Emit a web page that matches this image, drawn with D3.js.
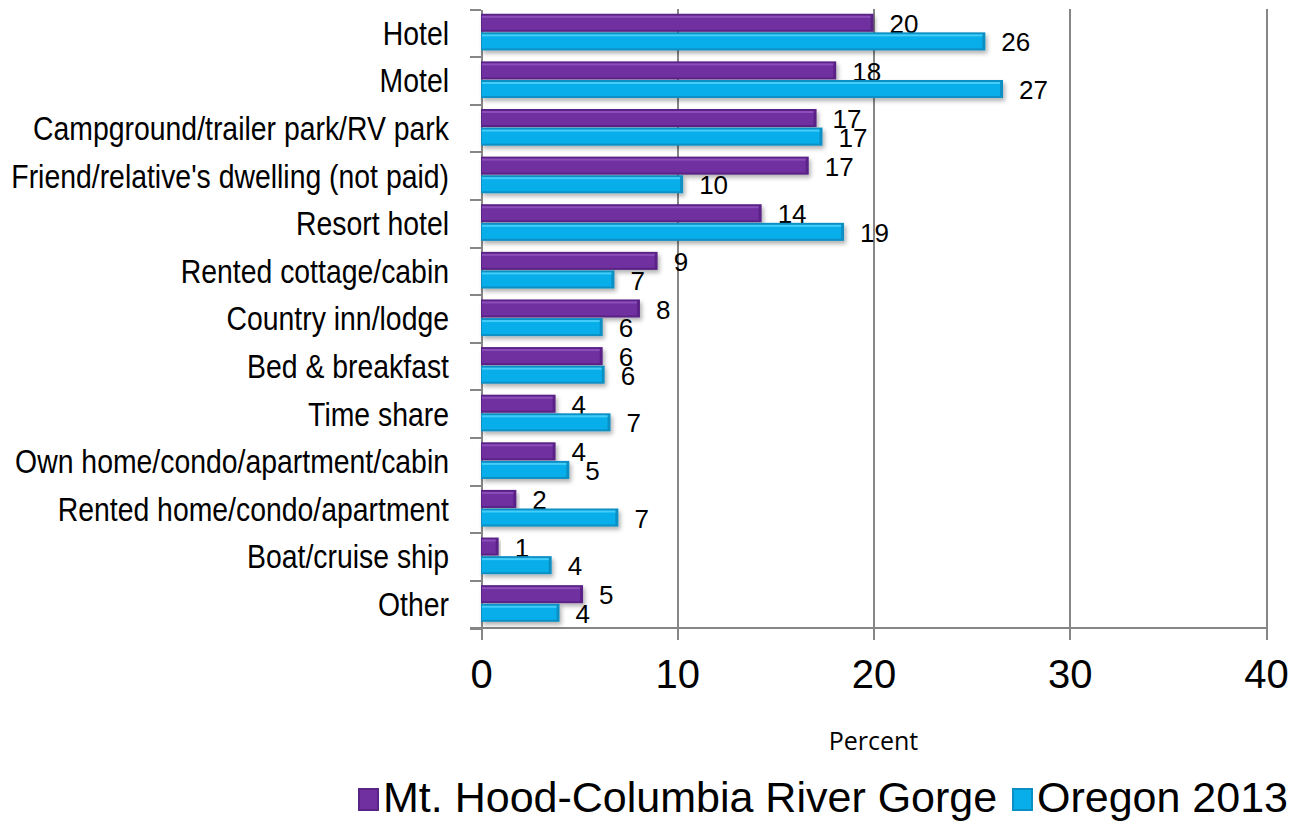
<!DOCTYPE html>
<html>
<head>
<meta charset="utf-8">
<script src="https://cdn.jsdelivr.net/npm/d3@7"></script>
<style>
  body { margin: 0; background: #fff; }
  svg { display: block; }
  .axis path, .axis line { stroke: #868686; stroke-width: 2; shape-rendering: crispEdges; }
</style>
</head>
<body>
<div id="chart"></div>
<script>
// categories, top to bottom
var categories = [
    "Hotel",
    "Motel",
    "Campground/trailer park/RV park",
    "Friend/relative's dwelling (not paid)",
    "Resort hotel",
    "Rented cottage/cabin",
    "Country inn/lodge",
    "Bed & breakfast",
    "Time share",
    "Own home/condo/apartment/cabin",
    "Rented home/condo/apartment",
    "Boat/cruise ship",
    "Other"
];

var seriesNames = ["Mt. Hood-Columbia River Gorge", "Oregon 2013"];

// percent values
var mtHoodValues = [20.0, 18.1, 17.1, 16.7, 14.3, 9.0, 8.1, 6.2, 3.8, 3.8, 1.8, 0.9, 5.2];
var oregonValues = [25.7, 26.6, 17.4, 10.3, 18.5, 6.8, 6.2, 6.3, 6.6, 4.5, 7.0, 3.6, 4.0];

var xTicks = [0, 10, 20, 30, 40];

var width = 1312, height = 822;
var plot = {left: 481, right: 1266, top: 9, bottom: 628};
var sansFont = "'Liberation Sans', Arial, sans-serif";

var colors = {
    main: ["#7030a0", "#07aee9"],
    dark: ["#5a2486", "#0a8fc4"],
    light: ["#8c4fba", "#45ccf8"]
};

var svg = d3.select("#chart").append("svg")
    .attr("width", width)
    .attr("height", height);

var defs = svg.append("defs");
var shadow = defs.append("filter").attr("id", "shadow")
    .attr("x", "-5%").attr("y", "-30%").attr("width", "115%").attr("height", "180%");
shadow.append("feDropShadow")
    .attr("dx", 2).attr("dy", 3)
    .attr("stdDeviation", 2)
    .attr("flood-color", "#000")
    .attr("flood-opacity", 0.3);

var x = d3.scaleLinear()
    .domain([0, 40])
    .range([plot.left, plot.right]);

var y0 = d3.scaleBand()
    .domain(categories)
    .range([plot.top, plot.bottom]);

var bw = y0.bandwidth();
var y1 = d3.scaleBand()
    .domain(seriesNames)
    .range([bw * 0.1, bw * 0.87])
    .paddingInner(0.03);

// vertical gridlines
svg.append("g")
    .attr("class", "axis grid")
    .attr("transform", "translate(0," + plot.bottom + ")")
    .call(d3.axisBottom(x).tickValues(xTicks.slice(1)).tickSize(-(plot.bottom - plot.top)).tickFormat(""))
    .call(function(g) { g.select(".domain").remove(); });

// x axis
var xAxis = svg.append("g")
    .attr("class", "axis")
    .attr("transform", "translate(0," + plot.bottom + ")")
    .call(d3.axisBottom(x).tickValues(xTicks).tickSize(12).tickSizeOuter(0).tickPadding(20));
xAxis.select(".domain").attr("d", "M" + (plot.left - 11) + ",0H" + plot.right);
xAxis.selectAll("text")
    .attr("fill", "#000")
    .style("font-family", sansFont)
    .style("font-size", "40px");

// y axis: ticks sit on category boundaries
var yEdge = d3.scaleLinear().domain([0, categories.length]).range([plot.top, plot.bottom]);
svg.append("g")
    .attr("class", "axis")
    .attr("transform", "translate(" + plot.left + ",0)")
    .call(d3.axisLeft(yEdge).ticks(categories.length).tickSize(11).tickSizeOuter(0).tickFormat(""));

// category labels, condensed like a narrow face
var narrow = 0.835;
svg.append("g").selectAll("text")
    .data(categories)
    .join("text")
    .attr("transform", function(d) {
        return "translate(" + (plot.left - 32) + "," + (y0(d) + bw / 2) + ") scale(" + narrow + ",1)";
    })
    .attr("dy", "0.35em")
    .attr("text-anchor", "end")
    .style("font-family", sansFont)
    .style("font-size", "34px")
    .attr("fill", "#000")
    .text(function(d) { return d; });

// bars
var rows = categories.map(function(c, i) {
    return {category: c, values: [mtHoodValues[i], oregonValues[i]]};
});

var groups = svg.append("g").selectAll("g")
    .data(rows)
    .join("g")
    .attr("transform", function(d) { return "translate(0," + y0(d.category) + ")"; });

var bars = groups.selectAll("g.bar")
    .data(function(d) {
        return d.values.map(function(v, k) { return {series: seriesNames[k], k: k, value: v}; });
    })
    .join("g")
    .attr("class", "bar");

bars.append("rect")
    .attr("x", x(0))
    .attr("y", function(d) { return y1(d.series); })
    .attr("width", function(d) { return x(d.value) - x(0); })
    .attr("height", y1.bandwidth())
    .attr("fill", function(d) { return colors.dark[d.k]; })
    .attr("filter", "url(#shadow)");

bars.append("rect")
    .attr("x", x(0) + 1)
    .attr("y", function(d) { return y1(d.series) + 2; })
    .attr("width", function(d) { return Math.max(0, x(d.value) - x(0) - 4); })
    .attr("height", y1.bandwidth() - 4)
    .attr("fill", function(d) { return colors.main[d.k]; });

bars.append("rect")
    .attr("x", x(0) + 1)
    .attr("y", function(d) { return y1(d.series) + 2; })
    .attr("width", function(d) { return Math.max(0, x(d.value) - x(0) - 4); })
    .attr("height", 2)
    .attr("fill", function(d) { return colors.light[d.k]; });

// value labels
bars.append("text")
    .attr("x", function(d) { return x(d.value) + 16; })
    .attr("y", function(d) { return y1(d.series) + y1.bandwidth() / 2 + 1; })
    .attr("dy", "0.35em")
    .style("font-family", sansFont)
    .style("font-size", "26px")
    .attr("fill", "#000")
    .text(function(d) { return Math.round(d.value); });

// axis title
svg.append("text")
    .attr("x", (plot.left + plot.right) / 2)
    .attr("y", 750)
    .attr("text-anchor", "middle")
    .style("font-family", "'Open Sans', sans-serif")
    .style("font-size", "25px")
    .text("Percent");

// legend
var legendItems = [
    {name: seriesNames[0], k: 0, x: 358},
    {name: seriesNames[1], k: 1, x: 1012}
];
var legend = svg.append("g").selectAll("g")
    .data(legendItems)
    .join("g")
    .attr("transform", function(d) { return "translate(" + d.x + ",788)"; });

legend.append("rect")
    .attr("width", 21).attr("height", 23)
    .attr("fill", function(d) { return colors.dark[d.k]; });
legend.append("rect")
    .attr("x", 2).attr("y", 2)
    .attr("width", 17).attr("height", 19)
    .attr("fill", function(d) { return colors.main[d.k]; });

legend.append("text")
    .attr("x", 25)
    .attr("y", 24)
    .style("font-family", sansFont)
    .style("font-size", "43px")
    .attr("fill", "#000")
    .text(function(d) { return d.name; });
</script>
</body>
</html>
